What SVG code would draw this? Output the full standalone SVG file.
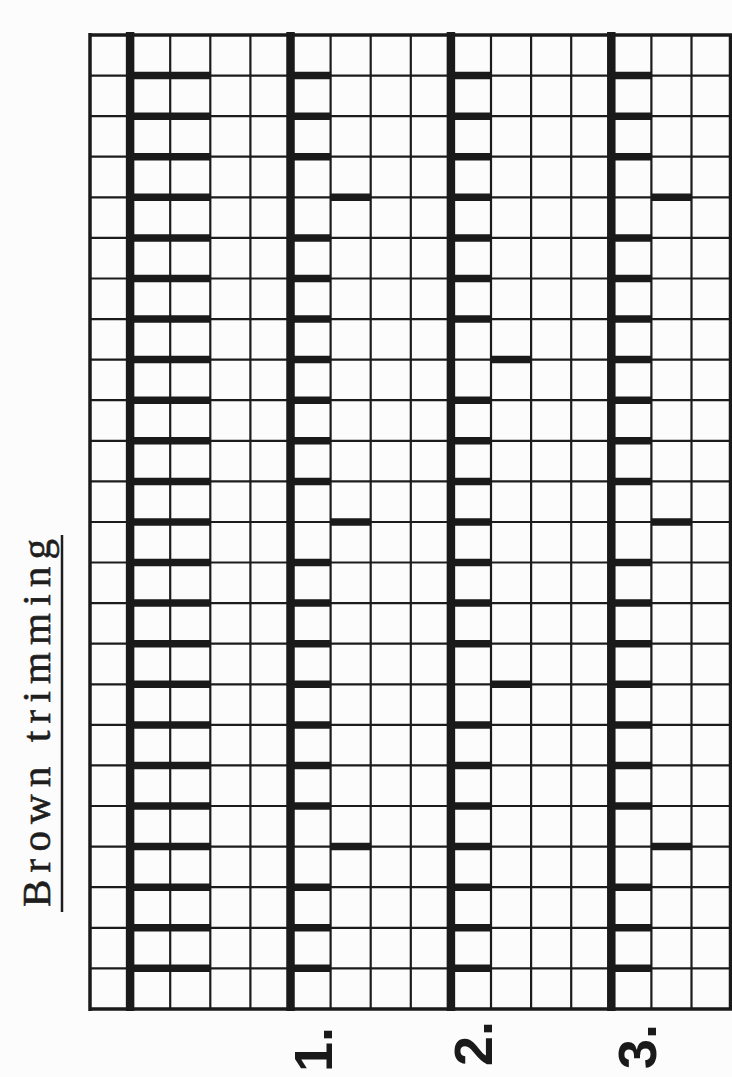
<svg xmlns="http://www.w3.org/2000/svg" width="732" height="1077" viewBox="0 0 732 1077">
<defs>
<style>
.grid{fill:none;stroke:#1c1c1c;stroke-width:2.2}
.border{fill:none;stroke:#1a1a1a;stroke-width:3.5}
.thick{fill:none;stroke:#1a1a1a;stroke-width:8.5}
.bar{fill:none;stroke:#1a1a1a;stroke-width:7.5;stroke-linecap:butt}
.title{font-family:"Liberation Serif","Times New Roman",serif;font-size:41px;fill:#1e1e1e;stroke:#1e1e1e;stroke-width:0.6}
.num{font-family:"Liberation Sans",Arial,sans-serif;font-weight:bold;font-size:54px;fill:#1a1a1a}
</style>
</defs>
<rect x="0" y="0" width="732" height="1077" fill="#fcfcfc"/>

<g id="title">
<text class="title" transform="translate(50,907) rotate(-90)" textLength="368" lengthAdjust="spacing">Brown trimming</text>
<line x1="62" y1="535" x2="62" y2="912" stroke="#1e1e1e" stroke-width="2.5"/>
</g>

<g id="grid">
<path class="grid" d="M170.2 35V1009M210.3 35V1009M250.4 35V1009M330.6 35V1009M370.7 35V1009M410.8 35V1009M491 35V1009M531.1 35V1009M571.2 35V1009M651.4 35V1009M691.5 35V1009
M90 75.6H732M90 116.2H732M90 156.7H732M90 197.3H732M90 237.9H732M90 278.5H732M90 319.1H732M90 359.6H732M90 400.2H732M90 440.8H732M90 481.4H732M90 522H732M90 562.5H732M90 603.1H732M90 643.7H732M90 684.3H732M90 724.9H732M90 765.4H732M90 806H732M90 846.6H732M90 887.2H732M90 927.8H732M90 968.3H732"/>
<path class="border" d="M90 35H732M90 1009H732M90 33V1011M730.5 35V1009"/>
<path class="thick" d="M130.1 32V1011M290.5 32V1011M450.9 32V1011M611.3 32V1011"/>
</g>

<g id="block-left">
<path class="bar" d="M130.1 75.6H210.3M130.1 116.2H210.3M130.1 156.7H210.3M130.1 197.3H210.3M130.1 237.9H210.3M130.1 278.5H210.3M130.1 319.1H210.3M130.1 359.6H210.3M130.1 400.2H210.3M130.1 440.8H210.3M130.1 481.4H210.3M130.1 522H210.3M130.1 562.5H210.3M130.1 603.1H210.3M130.1 643.7H210.3M130.1 684.3H210.3M130.1 724.9H210.3M130.1 765.4H210.3M130.1 806H210.3M130.1 846.6H210.3M130.1 887.2H210.3M130.1 927.8H210.3M130.1 968.3H210.3"/>
</g>

<g id="block-1">
<path class="bar" d="M290.5 75.6H330.6M290.5 116.2H330.6M290.5 156.7H330.6M330.6 197.3H370.7M290.5 237.9H330.6M290.5 278.5H330.6M290.5 319.1H330.6M290.5 359.6H330.6M290.5 400.2H330.6M290.5 440.8H330.6M290.5 481.4H330.6M330.6 522H370.7M290.5 562.5H330.6M290.5 603.1H330.6M290.5 643.7H330.6M290.5 684.3H330.6M290.5 724.9H330.6M290.5 765.4H330.6M290.5 806H330.6M330.6 846.6H370.7M290.5 887.2H330.6M290.5 927.8H330.6M290.5 968.3H330.6"/>
<text class="num" transform="translate(332,1072) rotate(-90)">1.</text>
</g>

<g id="block-2">
<path class="bar" d="M450.9 75.6H491M450.9 116.2H491M450.9 156.7H491M450.9 197.3H491M450.9 237.9H491M450.9 278.5H491M450.9 319.1H491M491 359.6H531.1M450.9 400.2H491M450.9 440.8H491M450.9 481.4H491M450.9 522H491M450.9 562.5H491M450.9 603.1H491M450.9 643.7H491M491 684.3H531.1M450.9 724.9H491M450.9 765.4H491M450.9 806H491M450.9 846.6H491M450.9 887.2H491M450.9 927.8H491M450.9 968.3H491"/>
<text class="num" transform="translate(492,1066) rotate(-90)">2.</text>
</g>

<g id="block-3">
<path class="bar" d="M611.3 75.6H651.4M611.3 116.2H651.4M611.3 156.7H651.4M651.4 197.3H691.5M611.3 237.9H651.4M611.3 278.5H651.4M611.3 319.1H651.4M611.3 359.6H651.4M611.3 400.2H651.4M611.3 440.8H651.4M611.3 481.4H651.4M651.4 522H691.5M611.3 562.5H651.4M611.3 603.1H651.4M611.3 643.7H651.4M611.3 684.3H651.4M611.3 724.9H651.4M611.3 765.4H651.4M611.3 806H651.4M651.4 846.6H691.5M611.3 887.2H651.4M611.3 927.8H651.4M611.3 968.3H651.4"/>
<text class="num" transform="translate(656,1069) rotate(-90)">3.</text>
</g>
</svg>
